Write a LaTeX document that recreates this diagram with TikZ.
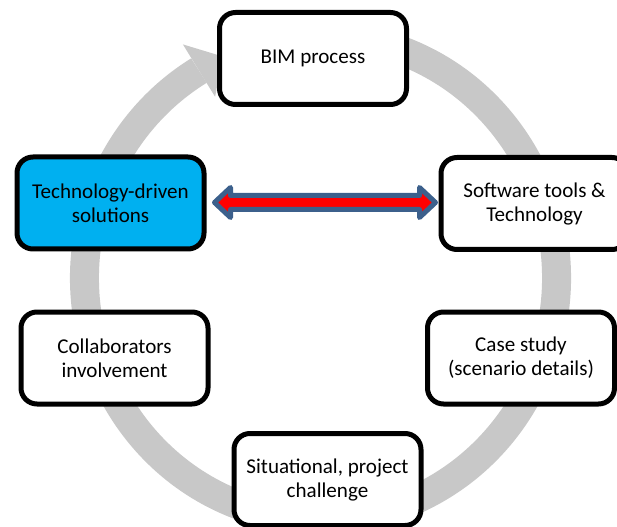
\documentclass[tikz,border=0pt]{standalone}
\usepackage{fontspec}
\setmainfont{Carlito}
\usetikzlibrary{calc}
\definecolor{ringgray}{RGB}{200,200,200}
\definecolor{techblue}{RGB}{0,176,240}
\definecolor{arrowblue}{RGB}{60,96,140}
\definecolor{arrowred}{RGB}{255,0,0}
\begin{document}
\begin{tikzpicture}[x=0.75pt,y=-0.75pt,
  stagebox/.style={draw=black, line width=3.75pt, rounded corners=12pt,
    fill=white, align=center, inner sep=0pt,
    minimum width=140.25pt, minimum height=69pt,
    font=\fontsize{15.8pt}{18pt}\selectfont},
  ringband/.style={draw=ringgray, line width=21.75pt},
  ringhead/.style={fill=ringgray},
  linkarrow/.style={fill=arrowred, draw=arrowblue, line width=3.75pt, line join=round}]
\useasboundingbox (0,0) rectangle (617,527);
\clip (0,0) rectangle (617,527);
% circular grey arrow
\draw[ringband] (320.5,278) ++(-75:236 and 242)
  arc[start angle=-75, end angle=239, x radius=236, y radius=242];
\fill[ringhead] (182.9,44.4) -- (222.5,56.4) -- (215.1,96.8) -- cycle;
% boxes
\node[stagebox] (bim) at (313,58.5) {BIM process};
\node[stagebox, fill=techblue] (tech) at (110.5,203) {Technology-driven\\solutions};
\node[stagebox] (soft) at (534.5,203.5) {Software tools \&\\Technology};
\node[stagebox] (collab) at (114.5,358) {Collaborators\\involvement};
\node[stagebox] (case) at (521,358) {Case study\\(scenario details)};
\node[stagebox] (sit) at (327.5,479.5) {Situational, project\\challenge};
% double arrow between the two boxes
\coordinate (la) at ($(tech.east)+(8,-0.5)$);
\coordinate (ra) at ($(soft.west)+(-3,-1)$);
\filldraw[linkarrow] (la) -- ++(16,-15) -- ++(0,8) -- ($(ra)+(-16,-7)$) -- ++(0,-8)
  -- (ra) -- ++(-16,15) -- ++(0,-8) -- ($(la)+(16,7)$) -- ++(0,8) -- cycle;
\end{tikzpicture}
\end{document}
